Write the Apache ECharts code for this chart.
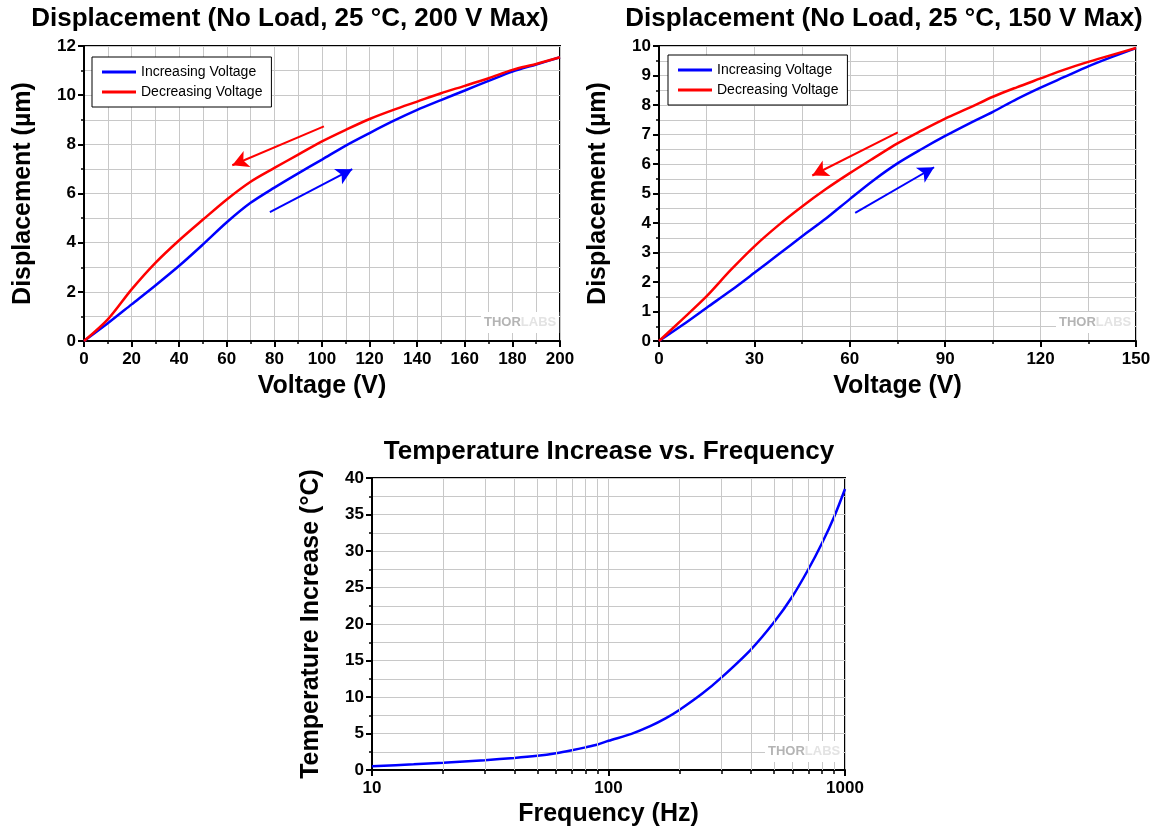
<!DOCTYPE html>
<html>
<head>
<meta charset="utf-8">
<script src="https://cdn.jsdelivr.net/npm/echarts@6/dist/echarts.min.js"></script>
<style>
html, body { margin: 0; padding: 0; background: #fff; }
#chartMain { width: 1163px; height: 831px; }
</style>
</head>
<body>
<div id="chartMain"></div>
<script>
// ---- displacement, 200 V max ----
var voltage200 = [0, 10, 20, 30, 40, 50, 60, 70, 80, 90, 100, 110, 120, 130, 140, 150, 160, 170, 180, 190, 200];
var incr200 = [0, 0.72, 1.49, 2.26, 3.06, 3.93, 4.83, 5.62, 6.24, 6.82, 7.38, 7.95, 8.46, 8.95, 9.4, 9.8, 10.19, 10.58, 10.96, 11.25, 11.54];
var decr200 = [0, 0.88, 2.1, 3.18, 4.1, 4.94, 5.76, 6.48, 7.04, 7.58, 8.12, 8.59, 9.03, 9.4, 9.74, 10.08, 10.38, 10.69, 11.03, 11.27, 11.54];
var arrowDecr200 = [[100.8, 8.73], [62.3, 7.15]];
var arrowIncr200 = [[78.1, 5.24], [112.7, 6.99]];

// ---- displacement, 150 V max ----
var voltage150 = [0, 7.5, 15, 22.5, 30, 37.5, 45, 52.5, 60, 67.5, 75, 82.5, 90, 97.5, 105, 112.5, 120, 127.5, 135, 142.5, 150];
var incr150 = [0, 0.55, 1.13, 1.7, 2.31, 2.93, 3.55, 4.15, 4.81, 5.45, 6.02, 6.5, 6.95, 7.37, 7.77, 8.2, 8.59, 8.95, 9.31, 9.63, 9.93];
var decr150 = [0, 0.75, 1.52, 2.4, 3.21, 3.92, 4.56, 5.15, 5.69, 6.2, 6.7, 7.13, 7.54, 7.9, 8.28, 8.6, 8.9, 9.2, 9.46, 9.7, 9.93];
var arrowDecr150 = [[75.1, 7.07], [48.2, 5.61]];
var arrowIncr150 = [[61.7, 4.34], [86.5, 5.89]];

// ---- temperature vs frequency ----
var freq = [10, 15, 20, 30, 40, 50, 60, 70, 80, 90, 100, 125, 150, 175, 200, 250, 300, 400, 500, 600, 700, 800, 900, 1000];
var tempRise = [0.5, 0.78, 1.0, 1.35, 1.65, 1.95, 2.3, 2.7, 3.1, 3.5, 4.0, 4.95, 6.0, 7.1, 8.25, 10.5, 12.65, 16.5, 20.2, 23.8, 27.5, 31.1, 34.7, 38.5];
var freqMinor = [20, 30, 40, 50, 60, 70, 80, 90, 200, 300, 400, 500, 600, 700, 800, 900];

var FONT = '"Liberation Sans", Arial, sans-serif';
var BLUE = '#0000ff';
var RED = '#ff0000';
var GRIDC = '#c8c8c8';

function pairs(xs, ys) {
    return xs.map(function(x, i) { return [x, ys[i]]; });
}

var nameStyle = { fontFamily: FONT, fontSize: 25, fontWeight: 'bold', color: '#000' };
var tickStyle = { fontFamily: FONT, fontSize: 17, fontWeight: 'bold', color: '#000' };

function valueAxis(gi, opt) {
    return {
        gridIndex: gi,
        type: 'value',
        name: opt.name,
        nameLocation: 'middle',
        nameGap: opt.nameGap,
        nameTextStyle: nameStyle,
        min: opt.min,
        max: opt.max,
        interval: opt.interval,
        axisLine: { show: true, onZero: false, lineStyle: { color: '#000', width: 2 } },
        axisTick: { show: true, inside: false, length: 6, lineStyle: { color: '#000', width: 2 } },
        minorTick: { show: true, splitNumber: 2, length: 3, lineStyle: { color: '#000', width: 1.5 } },
        axisLabel: Object.assign({ margin: opt.margin }, tickStyle),
        splitLine: { show: true, lineStyle: { color: GRIDC, width: 1 } },
        minorSplitLine: { show: true, lineStyle: { color: GRIDC, width: 1 } }
    };
}

function arrowLine(pts, color) {
    return {
        silent: true,
        symbol: ['none', 'arrow'],
        symbolSize: [13, 16],
        label: { show: false },
        emphasis: { disabled: true },
        lineStyle: { color: color, width: 2, type: 'solid' },
        data: [[{ coord: pts[0] }, { coord: pts[1] }]]
    };
}

function curve(name, gi, data, color, arrow) {
    return {
        name: name,
        type: 'line',
        xAxisIndex: gi,
        yAxisIndex: gi,
        smooth: 0.3,
        showSymbol: false,
        symbol: 'none',
        z: 3,
        lineStyle: { color: color, width: 2.5 },
        itemStyle: { color: color },
        emphasis: { disabled: true },
        data: data,
        markLine: arrow ? arrowLine(arrow, color) : undefined
    };
}

function legendBox(left, top) {
    return {
        left: left,
        top: top,
        orient: 'vertical',
        data: ['Increasing Voltage', 'Decreasing Voltage'],
        icon: 'rect',
        itemWidth: 34,
        itemHeight: 3,
        itemGap: 6,
        padding: [8, 9, 8, 10],
        borderColor: '#000',
        borderWidth: 1,
        backgroundColor: '#fff',
        textStyle: { fontFamily: FONT, fontSize: 14, color: '#000' }
    };
}

function watermark(x, y) {
    return {
        type: 'text',
        left: x,
        top: y,
        z: 50,
        style: {
            text: '{a|THOR}{b|LABS}',
            backgroundColor: '#fff',
            padding: [4, 3],
            rich: {
                a: { fontFamily: FONT, fontSize: 13, fontWeight: 'bold', fill: '#b4b4b4' },
                b: { fontFamily: FONT, fontSize: 13, fontWeight: 'bold', fill: '#e3e3e3' }
            }
        }
    };
}

var titleStyle = { fontFamily: FONT, fontSize: 26, fontWeight: 'bold', color: '#000' };

var domMain = document.getElementById('chartMain');
var myChart = echarts.init(domMain);

var option = {
    backgroundColor: '#fff',
    animation: false,
    title: [
        { text: 'Displacement (No Load, 25 °C, 200 V Max)', left: 290, top: 6, textAlign: 'center', padding: 0, textStyle: titleStyle },
        { text: 'Displacement (No Load, 25 °C, 150 V Max)', left: 884, top: 6, textAlign: 'center', padding: 0, textStyle: titleStyle },
        { text: 'Temperature Increase vs. Frequency', left: 609, top: 439, textAlign: 'center', padding: 0, textStyle: titleStyle }
    ],
    legend: [legendBox(92, 57), legendBox(668, 55)],
    grid: [
        { left: 84, top: 46, width: 476, height: 295, show: true, borderColor: '#000', borderWidth: 2 },
        { left: 659, top: 46, width: 477, height: 295, show: true, borderColor: '#000', borderWidth: 2 },
        { left: 372, top: 478, width: 473, height: 292, show: true, borderColor: '#000', borderWidth: 2 }
    ],
    xAxis: [
        valueAxis(0, { name: 'Voltage (V)', nameGap: 33, min: 0, max: 200, interval: 20, margin: 10 }),
        valueAxis(1, { name: 'Voltage (V)', nameGap: 33, min: 0, max: 150, interval: 30, margin: 10 }),
        {
            gridIndex: 2,
            type: 'log',
            logBase: 10,
            min: 10,
            max: 1000,
            name: 'Frequency (Hz)',
            nameLocation: 'middle',
            nameGap: 32,
            nameTextStyle: nameStyle,
            axisLine: { show: true, onZero: false, lineStyle: { color: '#000', width: 2 } },
            axisTick: { show: true, inside: false, length: 6, lineStyle: { color: '#000', width: 2 } },
            minorTick: { show: false },
            axisLabel: Object.assign({
                margin: 10,
                formatter: function(v) { return String(v); }
            }, tickStyle),
            splitLine: { show: true, lineStyle: { color: GRIDC, width: 1 } }
        },
        {
            // minor ticks of the log axis
            gridIndex: 2,
            type: 'log',
            logBase: 10,
            min: 10,
            max: 1000,
            position: 'bottom',
            axisLine: { show: false },
            axisTick: { show: true, inside: false, length: 4, customValues: freqMinor, lineStyle: { color: '#000', width: 1.5 } },
            axisLabel: { show: false },
            splitLine: { show: false }
        }
    ],
    yAxis: [
        valueAxis(0, { name: 'Displacement (µm)', nameGap: 48, min: 0, max: 12, interval: 2, margin: 8 }),
        valueAxis(1, { name: 'Displacement (µm)', nameGap: 48, min: 0, max: 10, interval: 1, margin: 8 }),
        valueAxis(2, { name: 'Temperature Increase (°C)', nameGap: 48, min: 0, max: 40, interval: 5, margin: 8 })
    ],
    series: [
        curve('Increasing Voltage', 0, pairs(voltage200, incr200), BLUE, arrowIncr200),
        curve('Decreasing Voltage', 0, pairs(voltage200, decr200), RED, arrowDecr200),
        curve('Increasing Voltage', 1, pairs(voltage150, incr150), BLUE, arrowIncr150),
        curve('Decreasing Voltage', 1, pairs(voltage150, decr150), RED, arrowDecr150),
        {
            // minor grid lines of the log axis
            name: 'logGrid',
            type: 'line',
            xAxisIndex: 2,
            yAxisIndex: 2,
            data: [],
            z: 1,
            markLine: {
                silent: true,
                symbol: 'none',
                label: { show: false },
                emphasis: { disabled: true },
                lineStyle: { color: GRIDC, width: 1, type: 'solid' },
                data: freqMinor.map(function(v) { return { xAxis: v }; })
            }
        },
        curve('Temperature', 2, pairs(freq, tempRise), BLUE, null)
    ],
    graphic: [watermark(481, 312), watermark(1056, 312), watermark(765, 741)]
};

if (option && typeof option === 'object') {
    myChart.setOption(option);
}

window.addEventListener('resize', function() {
    myChart.resize();
});
</script>
</body>
</html>
